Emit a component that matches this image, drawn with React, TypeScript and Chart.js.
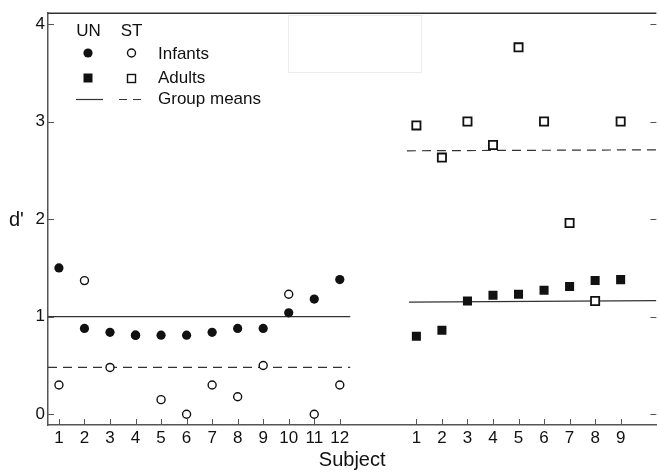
import React, { useEffect, useRef } from "react";
import { Chart, registerables } from "chart.js";
Chart.register(...registerables);

const infantSubjects = [1, 2, 3, 4, 5, 6, 7, 8, 9, 10, 11, 12];
const infantUN = [1.5, 0.88, 0.84, 0.81, 0.81, 0.81, 0.84, 0.88, 0.88, 1.04, 1.18, 1.38];
const infantST = [0.3, 1.37, 0.48, 0.81, 0.15, 0.0, 0.3, 0.18, 0.5, 1.23, 0.0, 0.3];
const adultSubjects = [1, 2, 3, 4, 5, 6, 7, 8, 9];
const adultUN = [0.8, 0.86, 1.16, 1.22, 1.23, 1.27, 1.31, 1.37, 1.38];
const adultST = [2.96, 2.63, 3.0, 2.76, 3.76, 3.0, 1.96, 1.16, 3.0];
const infantMeanUN = [1.0, 1.0];
const infantMeanST = [0.48, 0.48];
const adultMeanUN = [1.15, 1.165];
const adultMeanST = [2.7, 2.71];
const yTicks = [0, 1, 2, 3, 4];
const adultOffset = 14;

const FONT = "'Liberation Sans', Arial, Helvetica, sans-serif";
const INK = "#111";
const AXIS = "#555";

const xMin = 0.572;
const xMax = 24.4;
const infantLineX = [xMin, 12.41];
const adultLineUNX = [14.71, xMax];
const adultLineSTX = [14.63, xMax];

const xPositions = [...infantSubjects, ...adultSubjects.map((s) => s + adultOffset)];
const xTickLabels = [...infantSubjects, ...adultSubjects].map(String);

const decorPlugin = {
  id: "decor",
  afterDraw(chart: any) {
    const ctx = chart.ctx;
    const ca = chart.chartArea;
    const xs = chart.scales.x;
    const ys = chart.scales.y;
    ctx.save();
    // top frame line
    ctx.strokeStyle = "#333";
    ctx.lineWidth = 1.5;
    ctx.beginPath();
    ctx.moveTo(ca.left, ca.top);
    ctx.lineTo(ca.right, ca.top);
    ctx.stroke();
    // inward ticks
    ctx.strokeStyle = AXIS;
    ctx.lineWidth = 1;
    ctx.beginPath();
    yTicks.forEach((v) => {
      const py = Math.round(ys.getPixelForValue(v)) + 0.5;
      ctx.moveTo(ca.left, py);
      ctx.lineTo(ca.left + 6, py);
      ctx.moveTo(ca.right, py);
      ctx.lineTo(ca.right - 6, py);
    });
    xPositions.forEach((v) => {
      const px = Math.round(xs.getPixelForValue(v)) + 0.5;
      ctx.moveTo(px, ca.bottom);
      ctx.lineTo(px, ca.bottom - 6);
    });
    ctx.stroke();
    // empty box
    ctx.strokeStyle = "#ececec";
    ctx.lineWidth = 1;
    ctx.strokeRect(288.5, 15.5, 133, 57);
    // y title
    ctx.fillStyle = INK;
    ctx.font = `20px ${FONT}`;
    ctx.textAlign = "left";
    ctx.textBaseline = "middle";
    ctx.fillText("d'", 9, ys.getPixelForValue(2) + 1);
    // legend
    ctx.font = `17px ${FONT}`;
    ctx.textAlign = "center";
    ctx.fillText("UN", 88.5, 31);
    ctx.fillText("ST", 131.5, 31);
    ctx.textAlign = "left";
    ctx.fillText("Infants", 158, 54);
    ctx.fillText("Adults", 158, 78);
    ctx.fillText("Group means", 158, 99);
    // markers
    ctx.fillStyle = INK;
    ctx.beginPath();
    ctx.arc(88, 53, 4.6, 0, Math.PI * 2);
    ctx.fill();
    ctx.strokeStyle = INK;
    ctx.lineWidth = 1.4;
    ctx.beginPath();
    ctx.arc(131.5, 53, 4, 0, Math.PI * 2);
    ctx.stroke();
    ctx.fillRect(83.5, 73.5, 9, 9);
    ctx.strokeRect(127.5, 74.5, 8, 8);
    // lines
    ctx.lineWidth = 1.2;
    ctx.strokeStyle = "#333";
    ctx.beginPath();
    ctx.moveTo(76, 99.5);
    ctx.lineTo(103, 99.5);
    ctx.stroke();
    ctx.setLineDash([8, 6]);
    ctx.beginPath();
    ctx.moveTo(119, 99.5);
    ctx.lineTo(143, 99.5);
    ctx.stroke();
    ctx.restore();
  },
};

export default function App() {
  const ref = useRef<HTMLCanvasElement | null>(null);
  useEffect(() => {
    if (!ref.current) return;
    const pts = (xs: number[], ys: number[]) => xs.map((x, i) => ({ x, y: ys[i] }));
    const adultX = adultSubjects.map((s) => s + adultOffset);
    const lineDs = (xs: number[], ys: number[], dashed: boolean) => ({
      data: pts(xs, ys),
      showLine: true,
      pointRadius: 0,
      borderColor: "#333",
      borderWidth: 1.2,
      borderDash: dashed ? [9, 6] : [],
      order: 5,
    });
    const chart = new Chart(ref.current, {
      type: "scatter",
      data: {
        datasets: [
          {
            data: pts(infantSubjects, infantUN),
            pointStyle: "circle",
            pointRadius: 4.6,
            backgroundColor: INK,
            borderColor: INK,
            borderWidth: 0,
            order: 1,
          },
          {
            data: pts(adultX, adultUN),
            pointStyle: "rect",
            pointRadius: 6.4,
            backgroundColor: INK,
            borderColor: INK,
            borderWidth: 0,
            order: 1,
          },
          {
            data: pts(infantSubjects, infantST),
            pointStyle: "circle",
            pointRadius: 4,
            backgroundColor: "#fff",
            borderColor: INK,
            borderWidth: 1.4,
            order: 2,
          },
          {
            data: pts(adultX, adultST),
            pointStyle: "rect",
            pointRadius: 5.8,
            backgroundColor: "#fff",
            borderColor: INK,
            borderWidth: 1.8,
            order: 2,
          },
          lineDs(infantLineX, infantMeanUN, false),
          lineDs(infantLineX, infantMeanST, true),
          lineDs(adultLineUNX, adultMeanUN, false),
          lineDs(adultLineSTX, adultMeanST, true),
        ] as any,
      },
      options: {
        animation: false,
        responsive: false,
        devicePixelRatio: 1,
        layout: { padding: { top: 9, right: 4, left: 0, bottom: 0 } },
        plugins: { legend: { display: false }, tooltip: { enabled: false } },
        scales: {
          x: {
            type: "linear",
            min: xMin,
            max: xMax,
            afterFit: (s: any) => {
              s.height = 47;
            },
            afterBuildTicks: (s: any) => {
              s.ticks = xPositions.map((v) => ({ value: v }));
            },
            grid: { display: true, drawOnChartArea: false, drawTicks: false },
            border: { display: true, color: AXIS, width: 1.5 },
            ticks: {
              autoSkip: false,
              maxRotation: 0,
              padding: 3,
              color: INK,
              font: { family: FONT, size: 17 },
              callback: (_v: any, i: number) => xTickLabels[i],
            },
            title: {
              display: true,
              text: "Subject",
              color: INK,
              font: { family: FONT, size: 20 },
              padding: { top: 0, bottom: 0 },
            },
          },
          y: {
            type: "linear",
            min: -0.11,
            max: 4.11,
            afterFit: (s: any) => {
              s.width = 48;
            },
            afterBuildTicks: (s: any) => {
              s.ticks = yTicks.map((v) => ({ value: v }));
            },
            grid: { display: true, drawOnChartArea: false, drawTicks: false },
            border: { display: true, color: AXIS, width: 1.5 },
            ticks: {
              padding: 3,
              color: INK,
              font: { family: FONT, size: 17 },
              callback: (v: any) => String(v),
            },
          },
        },
      },
      plugins: [decorPlugin],
    } as any);
    return () => chart.destroy();
  }, []);
  return (
    <div
      style={{
        position: "fixed",
        left: 0,
        top: 0,
        width: 659,
        height: 472,
        overflow: "hidden",
        background: "#fff",
      }}
    >
      <canvas ref={ref} width={664} height={472} style={{ display: "block" }} />
    </div>
  );
}
